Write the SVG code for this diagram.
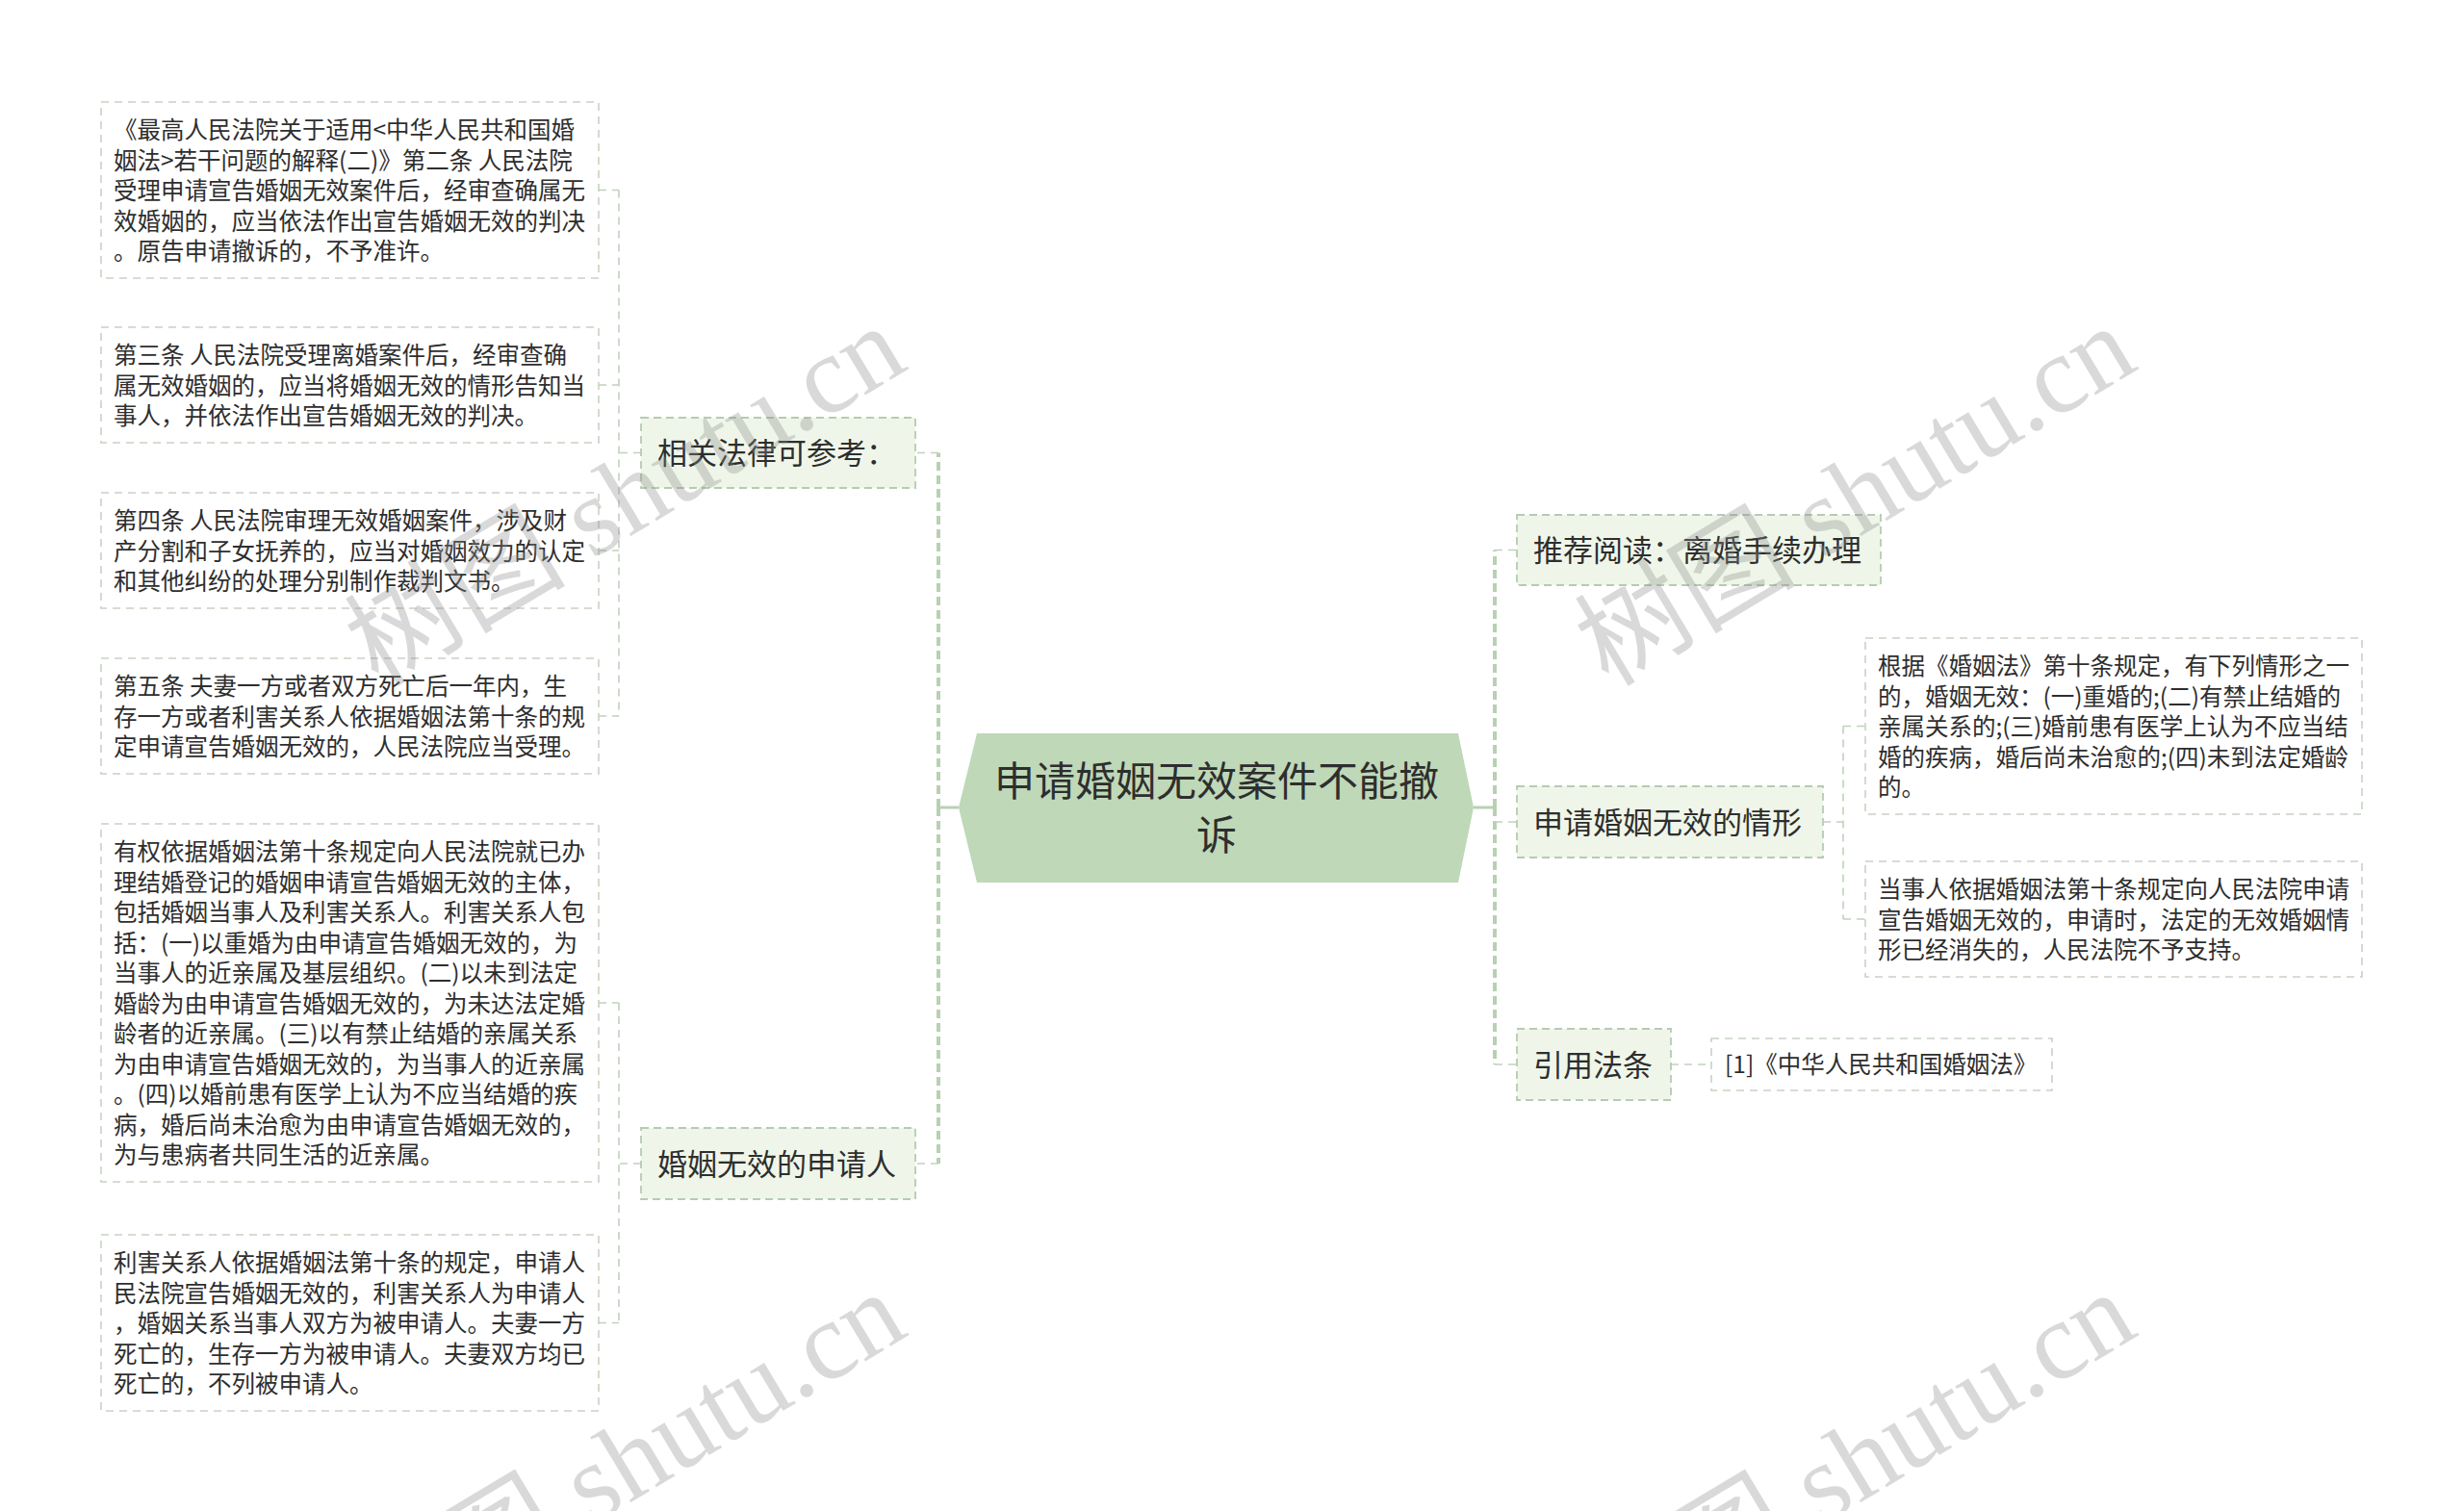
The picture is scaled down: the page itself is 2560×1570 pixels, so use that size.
<svg xmlns="http://www.w3.org/2000/svg" width="2560" height="1570" viewBox="0 0 2560 1570">
<style>
text{font-family:"Noto Sans CJK SC","Noto Sans",sans-serif;fill:#2e2e2e}
.leaf{fill:#ffffff;stroke:#c6d4c2;stroke-width:1.6;stroke-dasharray:8 6}
.l1{fill:#eff6e9;stroke:#b6cbb1;stroke-width:1.8;stroke-dasharray:8 5}
.root{fill:#bed8b8}
.lt{font-size:24.5px}
.nt{font-size:31px}
.rt{font-size:42px}
.trunk{fill:none;stroke:#b8d0b3;stroke-width:4;stroke-dasharray:9 5}
.solid{fill:none;stroke:#b8d0b3;stroke-width:3}
.sub{fill:none;stroke:#c0d2bc;stroke-width:1.6;stroke-dasharray:8 6}
.wm{font-family:"Liberation Serif","Noto Sans CJK SC",serif;font-size:115px;fill:#8c8c8c;opacity:0.32}
</style>

<g id="connectors">
  <!-- left trunk -->
  <path class="solid" d="M996 839 H975"/>
  <path class="trunk" d="M975 839 V470.5 M975 839 V1209"/>
  <path class="sub" d="M975 470.5 H951 M975 1209 H951"/>
  <!-- left sub group 1 -->
  <path class="sub" d="M666 470.5 H643 M643 197.5 V744 M622 197.5 H643 M622 400 H643 M622 572 H643 M622 744 H643"/>
  <!-- left sub group 2 -->
  <path class="sub" d="M666 1209 H643 M643 1042 V1374.5 M622 1042 H643 M622 1374.5 H643"/>
  <!-- right trunk -->
  <path class="solid" d="M1531 839 H1553"/>
  <path class="trunk" d="M1553 839 V571.5 M1553 839 V1106"/>
  <path class="sub" d="M1553 571.5 H1576 M1553 854 H1576 M1553 1106 H1576"/>
  <!-- right sub -->
  <path class="sub" d="M1894 854 H1915 M1915 754.5 V955 M1915 754.5 H1938 M1915 955 H1938"/>
  <path class="sub" d="M1736 1106 H1778"/>
</g>

<g id="root">
  <polygon class="root" points="996,839 1015,762 1515,762 1531,839 1515,917 1015,917"/>
  <text class="rt" x="1264" y="827" text-anchor="middle">申请婚姻无效案件不能撤</text>
  <text class="rt" x="1264" y="883" text-anchor="middle">诉</text>
</g>

<g id="n-law">
  <rect class="l1" x="666" y="434" width="285" height="73"/>
  <text class="nt" x="683" y="482">相关法律可参考：</text>
</g>
<g id="n-applicant">
  <rect class="l1" x="666" y="1172" width="285" height="74"/>
  <text class="nt" x="683" y="1221">婚姻无效的申请人</text>
</g>
<g id="n-read">
  <rect class="l1" x="1576" y="535" width="378" height="73"/>
  <text class="nt" x="1593" y="583">推荐阅读：离婚手续办理</text>
</g>
<g id="n-case">
  <rect class="l1" x="1576" y="817" width="318" height="74"/>
  <text class="nt" x="1593" y="866">申请婚姻无效的情形</text>
</g>
<g id="n-cite">
  <rect class="l1" x="1576" y="1069" width="160" height="74"/>
  <text class="nt" x="1593" y="1118">引用法条</text>
</g>

<g id="leaf-1">
  <rect class="leaf" x="105" y="106" width="517" height="183"/>
  <text class="lt" x="118" y="144">《最高人民法院关于适用&lt;中华人民共和国婚</text>
  <text class="lt" x="118" y="175.5">姻法&gt;若干问题的解释(二)》第二条 人民法院</text>
  <text class="lt" x="118" y="207">受理申请宣告婚姻无效案件后，经审查确属无</text>
  <text class="lt" x="118" y="238.5">效婚姻的，应当依法作出宣告婚姻无效的判决</text>
  <text class="lt" x="118" y="270">。原告申请撤诉的，不予准许。</text>
</g>
<g id="leaf-2">
  <rect class="leaf" x="105" y="340" width="517" height="120"/>
  <text class="lt" x="118" y="378">第三条 人民法院受理离婚案件后，经审查确</text>
  <text class="lt" x="118" y="409.5">属无效婚姻的，应当将婚姻无效的情形告知当</text>
  <text class="lt" x="118" y="441">事人，并依法作出宣告婚姻无效的判决。</text>
</g>
<g id="leaf-3">
  <rect class="leaf" x="105" y="512" width="517" height="120"/>
  <text class="lt" x="118" y="550">第四条 人民法院审理无效婚姻案件，涉及财</text>
  <text class="lt" x="118" y="581.5">产分割和子女抚养的，应当对婚姻效力的认定</text>
  <text class="lt" x="118" y="613">和其他纠纷的处理分别制作裁判文书。</text>
</g>
<g id="leaf-4">
  <rect class="leaf" x="105" y="684" width="517" height="120"/>
  <text class="lt" x="118" y="722">第五条 夫妻一方或者双方死亡后一年内，生</text>
  <text class="lt" x="118" y="753.5">存一方或者利害关系人依据婚姻法第十条的规</text>
  <text class="lt" x="118" y="785">定申请宣告婚姻无效的，人民法院应当受理。</text>
</g>
<g id="leaf-5">
  <rect class="leaf" x="105" y="856" width="517" height="372"/>
  <text class="lt" x="118" y="894">有权依据婚姻法第十条规定向人民法院就已办</text>
  <text class="lt" x="118" y="925.5">理结婚登记的婚姻申请宣告婚姻无效的主体，</text>
  <text class="lt" x="118" y="957">包括婚姻当事人及利害关系人。利害关系人包</text>
  <text class="lt" x="118" y="988.5">括：(一)以重婚为由申请宣告婚姻无效的，为</text>
  <text class="lt" x="118" y="1020">当事人的近亲属及基层组织。(二)以未到法定</text>
  <text class="lt" x="118" y="1051.5">婚龄为由申请宣告婚姻无效的，为未达法定婚</text>
  <text class="lt" x="118" y="1083">龄者的近亲属。(三)以有禁止结婚的亲属关系</text>
  <text class="lt" x="118" y="1114.5">为由申请宣告婚姻无效的，为当事人的近亲属</text>
  <text class="lt" x="118" y="1146">。(四)以婚前患有医学上认为不应当结婚的疾</text>
  <text class="lt" x="118" y="1177.5">病，婚后尚未治愈为由申请宣告婚姻无效的，</text>
  <text class="lt" x="118" y="1209">为与患病者共同生活的近亲属。</text>
</g>
<g id="leaf-6">
  <rect class="leaf" x="105" y="1283" width="517" height="183"/>
  <text class="lt" x="118" y="1321">利害关系人依据婚姻法第十条的规定，申请人</text>
  <text class="lt" x="118" y="1352.5">民法院宣告婚姻无效的，利害关系人为申请人</text>
  <text class="lt" x="118" y="1384">，婚姻关系当事人双方为被申请人。夫妻一方</text>
  <text class="lt" x="118" y="1415.5">死亡的，生存一方为被申请人。夫妻双方均已</text>
  <text class="lt" x="118" y="1447">死亡的，不列被申请人。</text>
</g>
<g id="leaf-r1">
  <rect class="leaf" x="1938" y="663" width="516" height="183"/>
  <text class="lt" x="1951" y="701">根据《婚姻法》第十条规定，有下列情形之一</text>
  <text class="lt" x="1951" y="732.5">的，婚姻无效：(一)重婚的;(二)有禁止结婚的</text>
  <text class="lt" x="1951" y="764">亲属关系的;(三)婚前患有医学上认为不应当结</text>
  <text class="lt" x="1951" y="795.5">婚的疾病，婚后尚未治愈的;(四)未到法定婚龄</text>
  <text class="lt" x="1951" y="827">的。</text>
</g>
<g id="leaf-r2">
  <rect class="leaf" x="1938" y="895" width="516" height="120"/>
  <text class="lt" x="1951" y="933">当事人依据婚姻法第十条规定向人民法院申请</text>
  <text class="lt" x="1951" y="964.5">宣告婚姻无效的，申请时，法定的无效婚姻情</text>
  <text class="lt" x="1951" y="996">形已经消失的，人民法院不予支持。</text>
</g>
<g id="leaf-cite">
  <rect class="leaf" x="1778" y="1079" width="354" height="54"/>
  <text class="lt" x="1792" y="1115">[1]《中华人民共和国婚姻法》</text>
</g>

<g id="watermark">
  <text class="wm" transform="translate(649,514) rotate(-31)" x="0" y="40" text-anchor="middle">树图 shutu.cn</text>
  <text class="wm" transform="translate(1927,514) rotate(-31)" x="0" y="40" text-anchor="middle">树图 shutu.cn</text>
  <text class="wm" transform="translate(649,1518) rotate(-31)" x="0" y="40" text-anchor="middle">树图 shutu.cn</text>
  <text class="wm" transform="translate(1927,1518) rotate(-31)" x="0" y="40" text-anchor="middle">树图 shutu.cn</text>
</g>
</svg>
